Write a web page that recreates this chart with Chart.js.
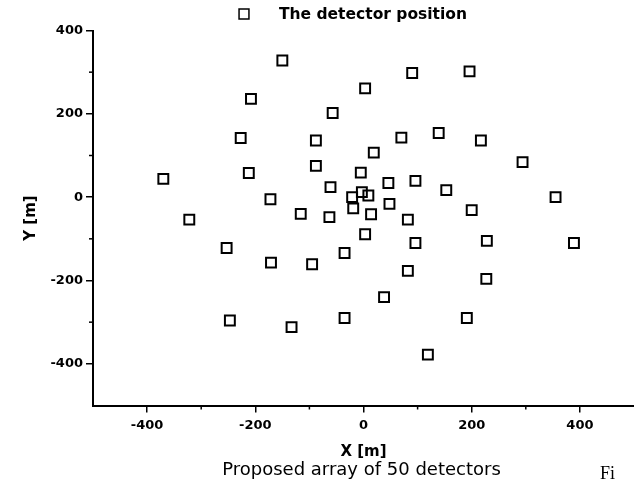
<!DOCTYPE html>
<html>
<head>
<meta charset="utf-8">
<script src="https://cdn.jsdelivr.net/npm/chart.js@4.4.1/dist/chart.umd.min.js"></script>
<style>
  html, body { margin: 0; padding: 0; background: #fff; }
  canvas { display: block; }
</style>
</head>
<body>
<canvas id="chart" width="634" height="498"></canvas>
<script>
// detector positions, in metres
const detectorX = [-150, -208, -227, -88, -212, -88, -370, -172, -116, 90,
                   196, 3, -57, 70, 139, 217, 19, 294, -5, -61,
                   46, 96, 153, 355, -3, 9, -21, -19, 48, 14,
                   200, -63, 82, 3, 96, 228, 389, -35, -95, 82,
                   227, 38, -35, 191, 119, -322, -253, -171, -247, -133];
const detectorY = [328, 236, 142, 136, 58, 75, 44, -5, -40, 298,
                   302, 261, 202, 143, 154, 136, 107, 84, 59, 24,
                   34, 39, 17, 0, 12, 4, 0, -27, -16, -41,
                   -31, -48, -54, -89, -110, -105, -110, -134, -161, -177,
                   -196, -240, -290, -290, -378, -54, -122, -157, -296, -312];

const xTickValues = [-400, -200, 0, 200, 400];
const yTickValues = [-400, -200, 0, 200, 400];
const xMinorTicks = [-300, -100, 100, 300];
const yMinorTicks = [-300, -100, 100, 300];

const legendLabel = 'The detector position';
const captionText = 'Proposed array of 50 detectors';

Chart.defaults.font.family = '"DejaVu Sans", sans-serif';
Chart.defaults.color = '#000';

const points = detectorX.map((x, i) => ({ x: x, y: detectorY[i] }));

// small unlabeled ticks between the labelled ones, plus legend and caption
const extrasPlugin = {
    id: 'extras',
    afterDraw(chart) {
        const ctx = chart.ctx;
        const xs = chart.scales.x;
        const ys = chart.scales.y;
        ctx.save();
        ctx.strokeStyle = '#000';
        ctx.lineWidth = 1.5;
        xMinorTicks.forEach(v => {
            const px = xs.getPixelForValue(v);
            ctx.beginPath();
            ctx.moveTo(px, xs.top);
            ctx.lineTo(px, xs.top + 4);
            ctx.stroke();
        });
        yMinorTicks.forEach(v => {
            const py = ys.getPixelForValue(v);
            ctx.beginPath();
            ctx.moveTo(ys.right - 4, py);
            ctx.lineTo(ys.right, py);
            ctx.stroke();
        });

        // legend
        const area = chart.chartArea;
        const lx = area.left + 151;
        const ly = 14;
        Chart.helpers.drawPoint(ctx, {
            pointStyle: 'rect', radius: 7, borderWidth: 2
        }, lx, ly);
        ctx.fillStyle = '#000';
        ctx.font = 'bold 15.5px "DejaVu Sans"';
        ctx.textBaseline = 'middle';
        ctx.textAlign = 'left';
        ctx.fillText(legendLabel, lx + 35, ly + 1);

        // caption under the axis title
        ctx.font = '18px "DejaVu Sans"';
        ctx.textAlign = 'center';
        ctx.fillText(captionText, (area.left + area.right) / 2 - 2, 470);

        // cut-off figure label at the right edge
        ctx.font = '18px "Liberation Serif"';
        ctx.textAlign = 'left';
        ctx.fillText('Fi', 600, 474);
        ctx.restore();
    }
};

const ctx = document.getElementById('chart').getContext('2d');
new Chart(ctx, {
    type: 'scatter',
    data: {
        datasets: [{
            label: legendLabel,
            data: points,
            pointStyle: 'rect',
            pointRadius: 7,
            pointHoverRadius: 7,
            pointBorderWidth: 2,
            borderColor: '#000',
            backgroundColor: 'rgba(0,0,0,0)',
            clip: false
        }]
    },
    options: {
        responsive: false,
        animation: false,
        events: [],
        layout: { autoPadding: false, padding: { top: 30.5, left: 0, right: 0, bottom: 0 } },
        plugins: {
            legend: { display: false },
            tooltip: { enabled: false }
        },
        scales: {
            x: {
                type: 'linear',
                min: -500,
                max: 500,
                afterBuildTicks: scale => { scale.ticks = xTickValues.map(v => ({ value: v })); },
                afterFit: scale => { scale.height = 92.5; },
                border: { color: '#000', width: 2 },
                grid: { drawOnChartArea: false, drawTicks: true, tickLength: 7, color: '#000', lineWidth: 1.5 },
                ticks: { font: { size: 13, weight: 'bold' }, padding: 5, maxRotation: 0 },
                title: {
                    display: true,
                    text: 'X [m]',
                    font: { size: 15, weight: 'bold' },
                    padding: { top: 0, bottom: 37 }
                }
            },
            y: {
                type: 'linear',
                min: -500,
                max: 400,
                afterBuildTicks: scale => { scale.ticks = yTickValues.map(v => ({ value: v })); },
                afterFit: scale => { scale.width = 93; },
                border: { color: '#000', width: 2 },
                grid: { drawOnChartArea: false, drawTicks: true, tickLength: 7, color: '#000', lineWidth: 1.5 },
                ticks: { font: { size: 13, weight: 'bold' }, padding: 3 },
                title: {
                    display: true,
                    text: 'Y [m]',
                    font: { size: 15, weight: 'bold' },
                    padding: { top: 22, bottom: 0 }
                }
            }
        }
    },
    plugins: [extrasPlugin]
});
</script>
</body>
</html>
